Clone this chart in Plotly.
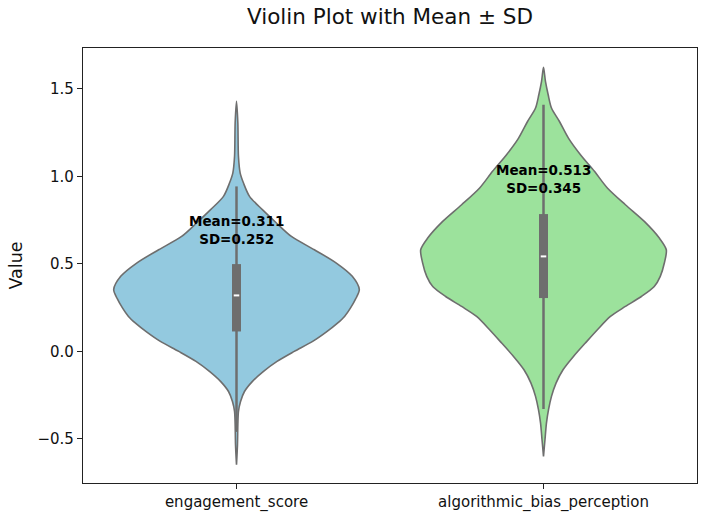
import plotly.graph_objects as go

# ---- data ----
categories = ["engagement_score", "algorithmic_bias_perception"]
means = [0.311, 0.513]
sds = [0.252, 0.345]

# violin outline profiles: value levels and relative half-width (1 = widest)
eng_levels = [1.429, 1.305, 1.114, 1.019, 0.962, 0.886, 0.810, 0.734, 0.657, 0.581,
              0.505, 0.429, 0.353, 0.300, 0.250, 0.200, 0.160, 0.110, 0.057, 0.0,
              -0.057, -0.114, -0.171, -0.229, -0.286, -0.343, -0.419, -0.533, -0.647]
eng_width = [0.0, 0.011, 0.016, 0.030, 0.057, 0.106, 0.211, 0.325, 0.447, 0.634,
             0.813, 0.943, 1.0, 0.97, 0.93, 0.88, 0.82, 0.73, 0.62, 0.47,
             0.33, 0.22, 0.13, 0.065, 0.033, 0.016, 0.011, 0.008, 0.0]

abp_levels = [1.623, 1.543, 1.467, 1.391, 1.314, 1.219, 1.124, 1.029, 0.934, 0.838,
              0.743, 0.648, 0.581, 0.505, 0.429, 0.371, 0.314, 0.257, 0.200, 0.124,
              0.048, -0.029, -0.105, -0.181, -0.257, -0.333, -0.410, -0.505, -0.600]
abp_width = [0.0, 0.016, 0.038, 0.065, 0.130, 0.203, 0.301, 0.415, 0.520, 0.667,
             0.821, 0.943, 1.0, 0.984, 0.951, 0.902, 0.797, 0.667, 0.545, 0.439,
             0.341, 0.244, 0.159, 0.102, 0.065, 0.041, 0.024, 0.012, 0.0]

# inner box: quartiles, median, whiskers
q1 = [0.114, 0.305]
q3 = [0.499, 0.785]
medians = [0.32, 0.543]
whisker_lo = [-0.46, -0.329]
whisker_hi = [0.943, 1.41]

fills = ["#93C9DF", "#9CE29C"]
edge = "#6e6e6e"
half_max = 0.4

profiles = [(eng_levels, eng_width), (abp_levels, abp_width)]

fig = go.Figure()
for i, (lev, wid) in enumerate(profiles):
    xs = [i + w * half_max for w in wid] + [i - w * half_max for w in reversed(wid)]
    ys = list(lev) + list(reversed(lev))
    fig.add_trace(go.Scatter(x=xs, y=ys, mode="lines", fill="toself",
                             fillcolor=fills[i],
                             line=dict(color=edge, width=1.6, shape="spline", smoothing=0.8),
                             hoverinfo="skip", showlegend=False))
    # whisker
    fig.add_trace(go.Scatter(x=[i, i], y=[whisker_lo[i], whisker_hi[i]], mode="lines",
                             line=dict(color=edge, width=2.5), hoverinfo="skip", showlegend=False))
    # box
    fig.add_trace(go.Scatter(x=[i, i], y=[q1[i], q3[i]], mode="lines",
                             line=dict(color=edge, width=9), hoverinfo="skip", showlegend=False))
    # median
    fig.add_trace(go.Scatter(x=[i - 0.009, i + 0.009], y=[medians[i], medians[i]], mode="lines",
                             line=dict(color="white", width=2), hoverinfo="skip", showlegend=False))
    fig.add_annotation(x=i, y=means[i] + sds[i] + 0.13, xref="x", yref="y",
                       text=f"<b>Mean={means[i]:.3f}<br>SD={sds[i]:.3f}</b>",
                       showarrow=False, font=dict(size=13.5, color="black", family="DejaVu Sans"),
                       xanchor="center", yanchor="middle", align="center")

W, H = 708, 519
L, R, T, B = 83, 11, 48, 36
fig.add_annotation(text="Value", xref="paper", yref="paper",
                   x=(15 - L) / (W - L - R), y=0.5, textangle=-90, showarrow=False,
                   font=dict(size=17.5, color="#111", family="DejaVu Sans"),
                   xanchor="center", yanchor="middle")

fig.update_layout(
    width=W, height=H,
    margin=dict(l=L, r=R, t=T, b=B, autoexpand=False),
    paper_bgcolor="white", plot_bgcolor="white",
    font=dict(family="DejaVu Sans", color="#111"),
    title=dict(text="Violin Plot with Mean ± SD", x=(L + (W - L - R) / 2) / W, xanchor="center",
               y=1 - 16 / H, yanchor="middle", font=dict(size=21.5, color="#111")),
    showlegend=False,
)
fig.update_xaxes(range=[-0.5, 1.5], tickvals=[0, 1], ticktext=categories, automargin=False,
                 showgrid=False, zeroline=False, showline=True, mirror=True,
                 linecolor="#222", linewidth=1.2, ticks="outside", ticklen=5,
                 tickcolor="#222", tickfont=dict(size=15, color="#111"))
fig.update_yaxes(range=[-0.752, 1.734], tick0=0, dtick=0.5, tickformat=".1f", automargin=False,
                 showgrid=False, zeroline=False, showline=True, mirror=True,
                 linecolor="#222", linewidth=1.2, ticks="outside", ticklen=5,
                 tickcolor="#222", tickfont=dict(size=15, color="#111"))

fig.write_html("out.html")
